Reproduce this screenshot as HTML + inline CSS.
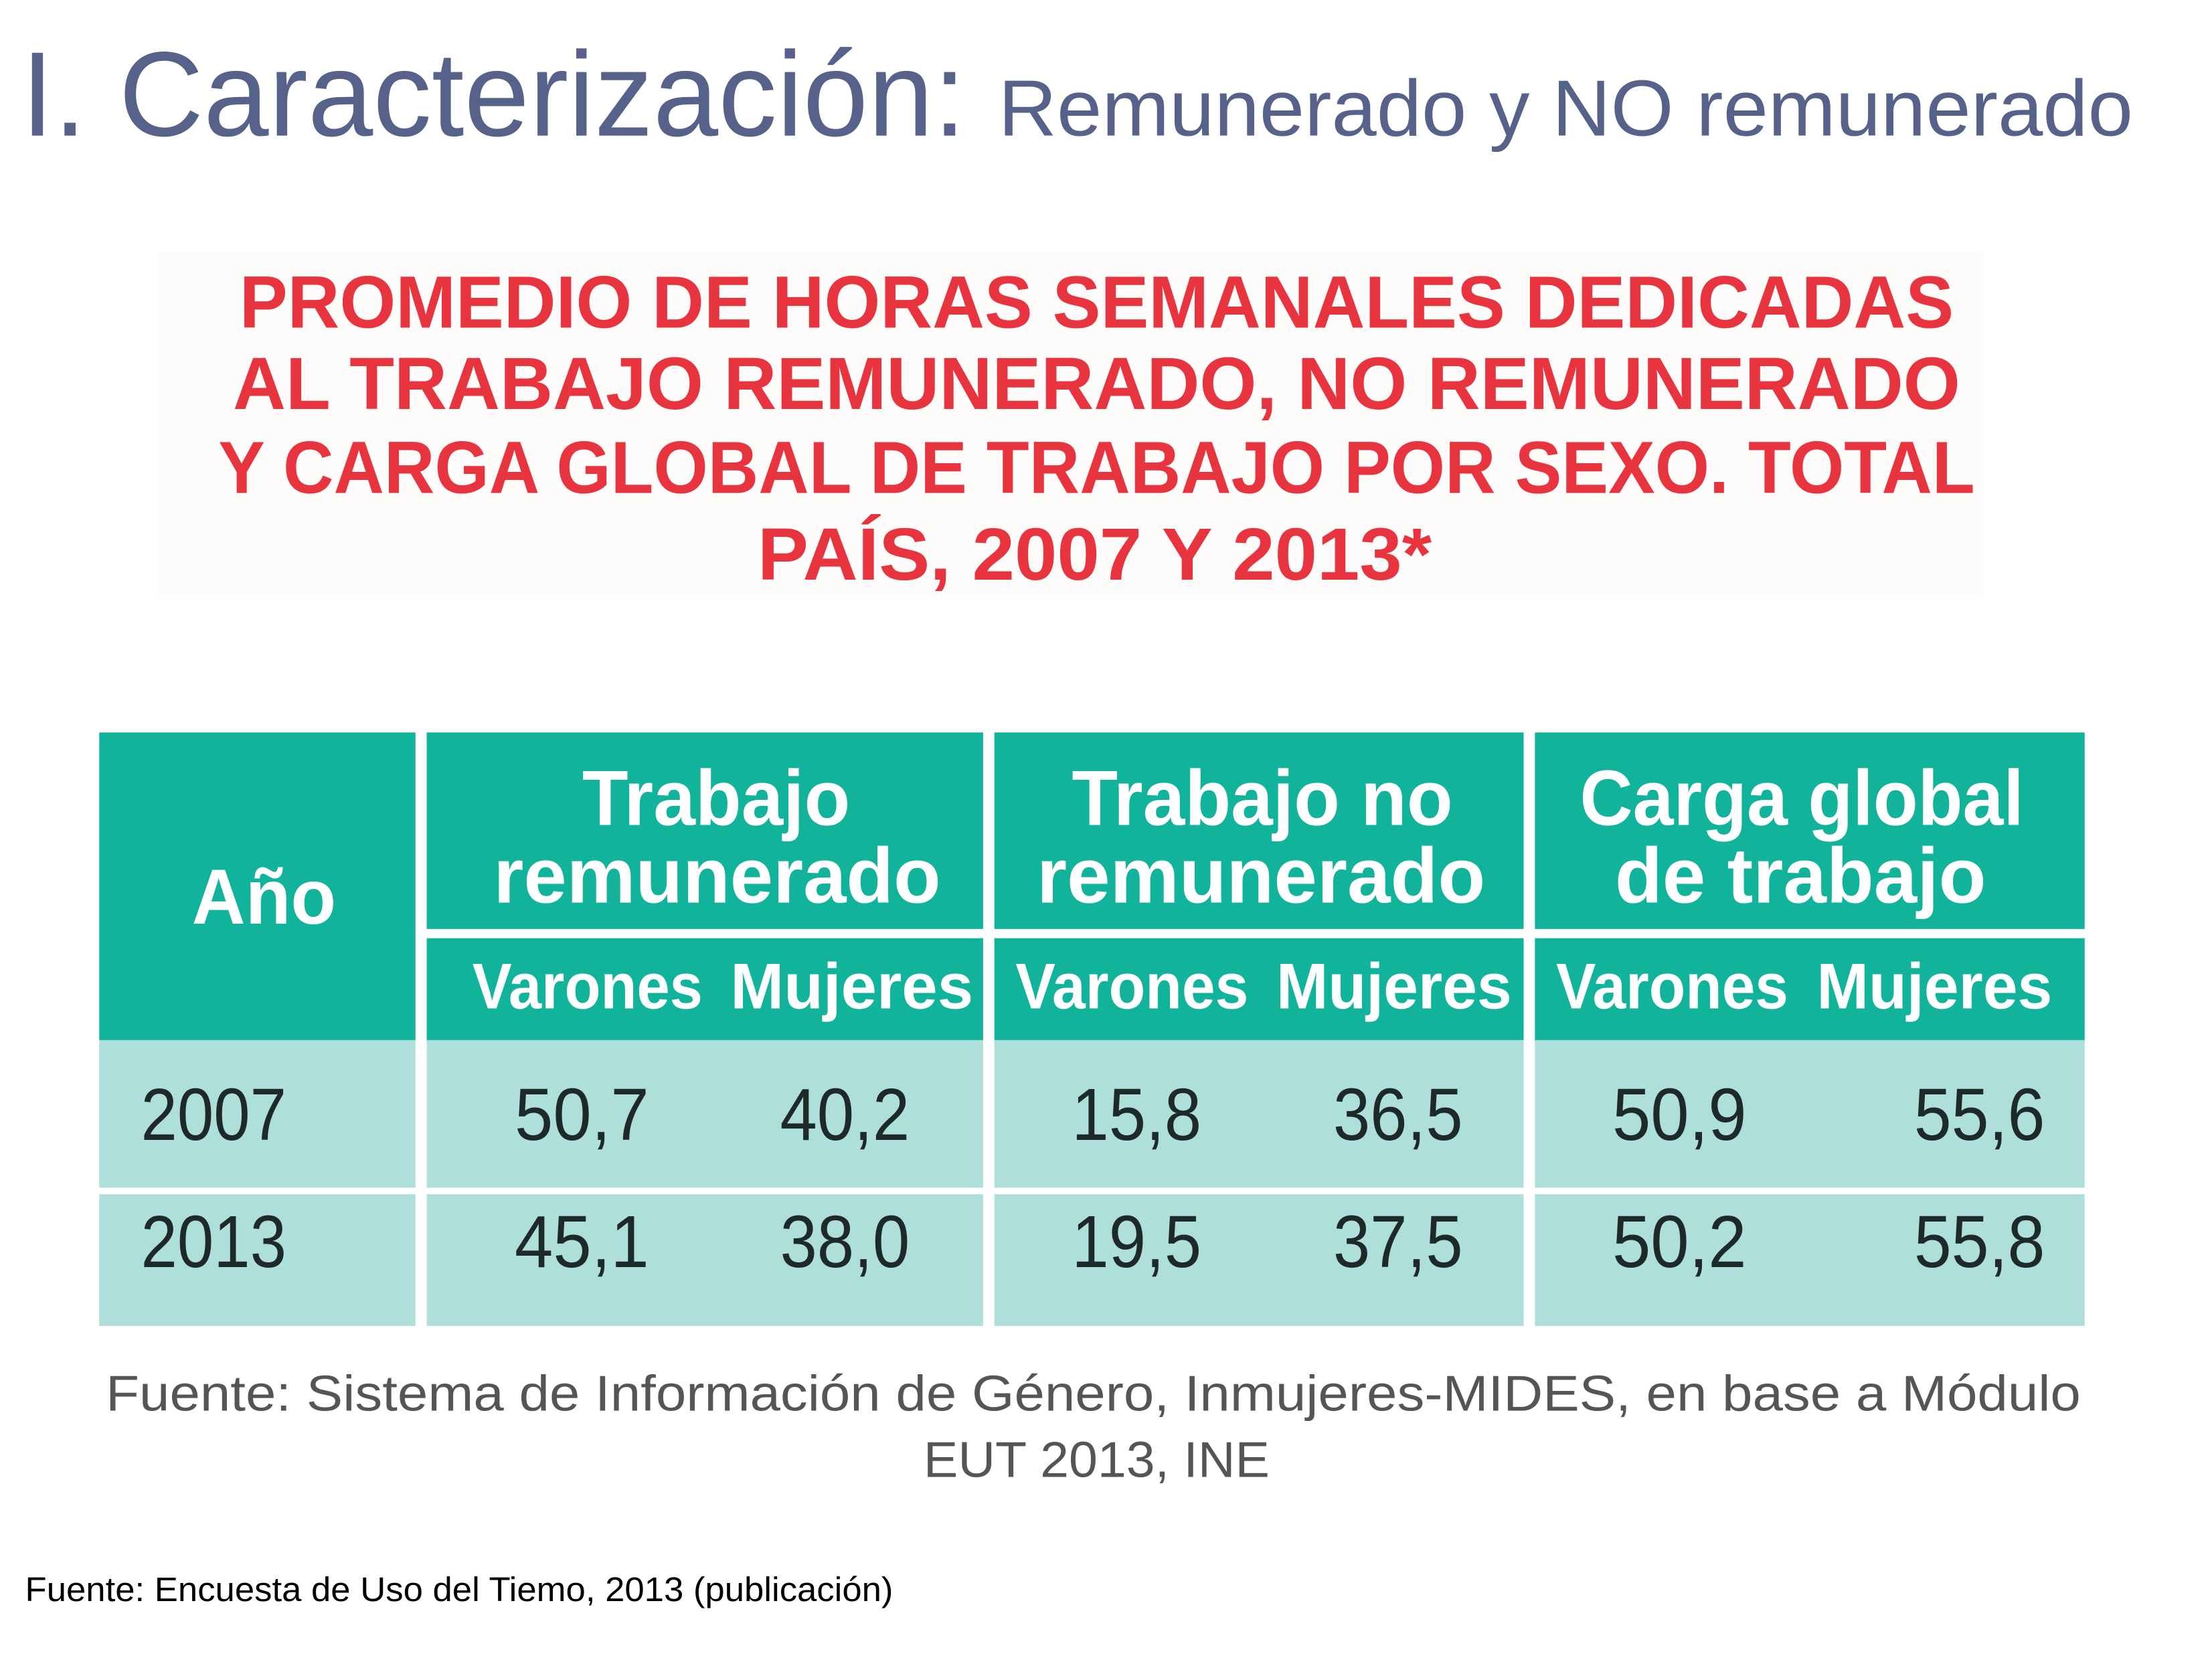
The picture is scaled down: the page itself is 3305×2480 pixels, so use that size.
<!DOCTYPE html>
<html><head><meta charset="utf-8"><style>html,body{margin:0;padding:0;background:#fff}svg{display:block}</style></head>
<body>
<svg width="3305" height="2480" viewBox="0 0 3305 2480" xmlns="http://www.w3.org/2000/svg" font-family="Liberation Sans, sans-serif">
<rect width="3305" height="2480" fill="#fff"/>
<g transform="scale(0.9885)">
<text x="32" y="205" font-size="182" fill="#56628a" textLength="1428" lengthAdjust="spacingAndGlyphs">I. Caracterización:</text>
<text x="1509" y="205" font-size="120" fill="#56628a" textLength="1715" lengthAdjust="spacingAndGlyphs">Remunerado y NO remunerado</text>
<rect x="240" y="380" width="2760" height="520" fill="#fefbfb"/>
<g font-weight="bold" font-size="112" fill="#e8343e">
<text x="362" y="495" textLength="2591" lengthAdjust="spacingAndGlyphs">PROMEDIO DE HORAS SEMANALES DEDICADAS</text>
<text x="352" y="618" textLength="2611" lengthAdjust="spacingAndGlyphs">AL TRABAJO REMUNERADO, NO REMUNERADO</text>
<text x="330" y="745" textLength="2655" lengthAdjust="spacingAndGlyphs">Y CARGA GLOBAL DE TRABAJO POR SEXO. TOTAL</text>
<text x="1145" y="876" textLength="1019" lengthAdjust="spacingAndGlyphs">PAÍS, 2007 Y 2013*</text>
</g>
<g fill="#11b39a">
<rect x="150" y="1107" width="478" height="465"/>
<rect x="645" y="1107" width="841" height="297"/>
<rect x="1503" y="1107" width="800" height="297"/>
<rect x="2320" y="1107" width="831" height="297"/>
<rect x="645" y="1418" width="841" height="154"/>
<rect x="1503" y="1418" width="800" height="154"/>
<rect x="2320" y="1418" width="831" height="154"/>
</g>
<g fill="#aedfda">
<rect x="150" y="1572" width="478" height="223"/>
<rect x="645" y="1572" width="841" height="223"/>
<rect x="1503" y="1572" width="800" height="223"/>
<rect x="2320" y="1572" width="831" height="223"/>
<rect x="150" y="1805" width="478" height="199"/>
<rect x="645" y="1805" width="841" height="199"/>
<rect x="1503" y="1805" width="800" height="199"/>
<rect x="2320" y="1805" width="831" height="199"/>
</g>
<g fill="#fff" font-weight="bold">
<text x="290" y="1396" font-size="118" textLength="218" lengthAdjust="spacingAndGlyphs">Año</text>
<text x="880" y="1247" font-size="118" textLength="405" lengthAdjust="spacingAndGlyphs">Trabajo</text>
<text x="746" y="1364" font-size="118" textLength="676" lengthAdjust="spacingAndGlyphs">remunerado</text>
<text x="1620" y="1247" font-size="118" textLength="576" lengthAdjust="spacingAndGlyphs">Trabajo no</text>
<text x="1567" y="1364" font-size="118" textLength="678" lengthAdjust="spacingAndGlyphs">remunerado</text>
<text x="2388" y="1247" font-size="118" textLength="671" lengthAdjust="spacingAndGlyphs">Carga global</text>
<text x="2441" y="1364" font-size="118" textLength="561" lengthAdjust="spacingAndGlyphs">de trabajo</text>
<g font-size="98">
<text x="714" y="1524" textLength="348" lengthAdjust="spacingAndGlyphs">Varones</text>
<text x="1104" y="1524" textLength="367" lengthAdjust="spacingAndGlyphs">Mujeres</text>
<text x="1535" y="1524" textLength="352" lengthAdjust="spacingAndGlyphs">Varones</text>
<text x="1929" y="1524" textLength="356" lengthAdjust="spacingAndGlyphs">Mujeres</text>
<text x="2352" y="1524" textLength="351" lengthAdjust="spacingAndGlyphs">Varones</text>
<text x="2746" y="1524" textLength="356" lengthAdjust="spacingAndGlyphs">Mujeres</text>
</g>
</g>
<g fill="#1e2a2a" font-size="112">
<text x="213" y="1723" textLength="220" lengthAdjust="spacingAndGlyphs">2007</text>
<text x="778" y="1723" textLength="203" lengthAdjust="spacingAndGlyphs">50,7</text>
<text x="1179" y="1723" textLength="196" lengthAdjust="spacingAndGlyphs">40,2</text>
<text x="1620" y="1723" textLength="196" lengthAdjust="spacingAndGlyphs">15,8</text>
<text x="2015" y="1723" textLength="196" lengthAdjust="spacingAndGlyphs">36,5</text>
<text x="2437" y="1723" textLength="203" lengthAdjust="spacingAndGlyphs">50,9</text>
<text x="2893" y="1723" textLength="198" lengthAdjust="spacingAndGlyphs">55,6</text>
<text x="213" y="1915" textLength="220" lengthAdjust="spacingAndGlyphs">2013</text>
<text x="778" y="1915" textLength="203" lengthAdjust="spacingAndGlyphs">45,1</text>
<text x="1179" y="1915" textLength="196" lengthAdjust="spacingAndGlyphs">38,0</text>
<text x="1620" y="1915" textLength="196" lengthAdjust="spacingAndGlyphs">19,5</text>
<text x="2015" y="1915" textLength="196" lengthAdjust="spacingAndGlyphs">37,5</text>
<text x="2437" y="1915" textLength="203" lengthAdjust="spacingAndGlyphs">50,2</text>
<text x="2893" y="1915" textLength="198" lengthAdjust="spacingAndGlyphs">55,8</text>
</g>
<g fill="#555" font-size="76">
<text x="160" y="2132" textLength="2985" lengthAdjust="spacingAndGlyphs">Fuente: Sistema de Información de Género, Inmujeres-MIDES, en base a Módulo</text>
<text x="1396" y="2232" textLength="523" lengthAdjust="spacingAndGlyphs">EUT 2013, INE</text>
</g>
<text x="38" y="2420" font-size="52" fill="#000" textLength="1312" lengthAdjust="spacingAndGlyphs">Fuente: Encuesta de Uso del Tiemo, 2013 (publicación)</text>
</g>
</svg>
</body></html>
